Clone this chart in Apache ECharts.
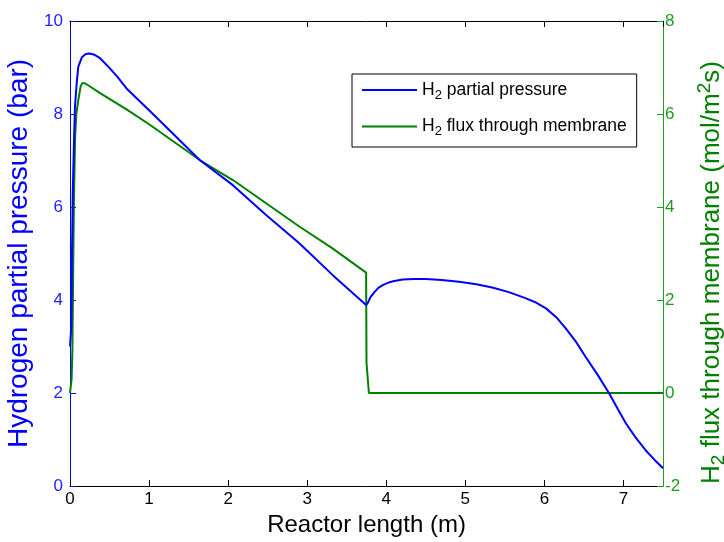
<!DOCTYPE html>
<html>
<head>
<meta charset="utf-8">
<script src="https://cdn.jsdelivr.net/npm/echarts@6/dist/echarts.min.js"></script>
<style>
  html, body { margin: 0; padding: 0; background: #fff; }
  #chart { width: 724px; height: 542px; }
</style>
</head>
<body>
<div id="chart"></div>
<script>
// Reactor position (m) and H2 partial pressure (bar)
const pressureX = [0, 0.015, 0.025, 0.035, 0.05, 0.063, 0.085, 0.105, 0.15, 0.2, 0.245, 0.3, 0.38, 0.505, 0.6, 0.715, 1.0, 1.3, 1.64, 2.06, 2.48, 2.9, 3.32, 3.745, 3.77, 3.8, 3.85, 3.9, 3.955, 4.02, 4.1, 4.21, 4.35, 4.5, 4.7, 4.92, 5.14, 5.34, 5.55, 5.76, 5.9, 6.02, 6.15, 6.27, 6.4, 6.52, 6.67, 6.82, 6.93, 7.03, 7.15, 7.28, 7.4, 7.5];
const pressureY = [3.0, 3.4, 5.0, 6.3, 7.4, 8.16, 8.67, 9.02, 9.22, 9.29, 9.3, 9.28, 9.2, 8.98, 8.8, 8.55, 8.08, 7.58, 7.01, 6.47, 5.83, 5.22, 4.54, 3.89, 3.95, 4.06, 4.17, 4.26, 4.32, 4.37, 4.41, 4.44, 4.45, 4.45, 4.43, 4.39, 4.34, 4.27, 4.17, 4.04, 3.94, 3.82, 3.63, 3.39, 3.1, 2.78, 2.4, 1.99, 1.65, 1.35, 1.05, 0.77, 0.55, 0.38];

// Reactor position (m) and H2 flux through the membrane (mol/m2s)
const fluxX = [0, 0.02, 0.03, 0.04, 0.05, 0.065, 0.08, 0.105, 0.135, 0.16, 0.2, 0.38, 0.715, 1.0, 1.3, 1.64, 2.06, 2.48, 2.9, 3.32, 3.745, 3.75, 3.775, 3.78, 7.5];
const fluxY = [0, 0.3, 0.9, 2.6, 4.2, 5.5, 6.0, 6.3, 6.6, 6.67, 6.65, 6.45, 6.1, 5.78, 5.42, 5.01, 4.58, 4.08, 3.58, 3.11, 2.59, 0.65, 0.62, 0.0, 0.0];

// Axis ranges and ticks
const lengthTicks = { min: 0, max: 7.5, interval: 1 };
const pressureTicks = { min: 0, max: 10, interval: 2 };
const fluxTicks = { min: -2, max: 8, interval: 2 };

const seriesNames = ['H2 partial pressure', 'H2 flux through membrane'];
const legendLabels = {
  'H2 partial pressure': '{n|H}{s|2}{n| partial pressure}',
  'H2 flux through membrane': '{n|H}{s|2}{n| flux through membrane}'
};

const BLUE = '#0000ff';
const GREEN = '#008000';
const AXIS_GREEN = '#1f9a1f';
const FONT = '"Liberation Sans", Arial, Helvetica, sans-serif';

const pair = (xs, ys) => xs.map((x, i) => [x, ys[i]]);

const chart = echarts.init(document.getElementById('chart'), null, { renderer: 'canvas' });

chart.setOption({
  animation: false,
  backgroundColor: '#ffffff',
  textStyle: { fontFamily: FONT },
  grid: { left: 70, right: 61, top: 21, bottom: 56, containLabel: false, outerBoundsMode: 'none' },
  legend: {
    data: seriesNames,
    orient: 'vertical',
    left: 352,
    top: 74,
    icon: 'rect',
    itemWidth: 55,
    itemHeight: 2,
    itemGap: 16,
    padding: [7, 10, 9, 10],
    borderColor: '#000',
    borderWidth: 1,
    backgroundColor: '#fff',
    formatter: name => legendLabels[name],
    textStyle: {
      fontFamily: FONT,
      fontSize: 17.5,
      color: '#000',
      rich: {
        n: { fontFamily: FONT, fontSize: 17.5, color: '#000' },
        s: { fontFamily: FONT, fontSize: 13, color: '#000', padding: [10, 0, 0, 0] }
      }
    }
  },
  xAxis: [
    {
      type: 'value',
      position: 'bottom',
      min: lengthTicks.min, max: lengthTicks.max, interval: lengthTicks.interval,
      name: 'Reactor length (m)',
      nameLocation: 'middle',
      nameGap: 27,
      nameTextStyle: { fontFamily: FONT, fontSize: 24, color: '#000' },
      axisLine: { show: true, onZero: false, lineStyle: { color: '#000', width: 1 } },
      axisTick: { show: true, inside: true, length: 6, lineStyle: { color: '#000' } },
      axisLabel: {
        show: true, margin: 5, color: '#000', fontSize: 17, fontFamily: FONT,
        showMaxLabel: false,
        formatter: v => (v > 7 ? '' : String(v))
      },
      splitLine: { show: false }
    },
    {
      type: 'value',
      position: 'top',
      min: lengthTicks.min, max: lengthTicks.max, interval: lengthTicks.interval,
      axisLine: { show: true, onZero: false, lineStyle: { color: '#000', width: 1 } },
      axisTick: { show: true, inside: true, length: 6, lineStyle: { color: '#000' } },
      axisLabel: { show: false },
      splitLine: { show: false }
    }
  ],
  yAxis: [
    {
      type: 'value',
      position: 'left',
      min: pressureTicks.min, max: pressureTicks.max, interval: pressureTicks.interval,
      name: 'Hydrogen partial pressure (bar)',
      nameLocation: 'middle',
      nameGap: 36,
      nameTextStyle: { fontFamily: FONT, fontSize: 28, color: BLUE },
      axisLine: { show: true, onZero: false, lineStyle: { color: BLUE, width: 1 } },
      axisTick: { show: true, inside: true, length: 6, lineStyle: { color: BLUE } },
      axisLabel: { color: '#2222ff', fontSize: 17, fontFamily: FONT, margin: 7 },
      splitLine: { show: false }
    },
    {
      type: 'value',
      position: 'right',
      min: fluxTicks.min, max: fluxTicks.max, interval: fluxTicks.interval,
      name: '{n|H}{s|2}{n| flux through membrane (mol/m}{p|2}{n|s)}',
      nameLocation: 'middle',
      nameGap: 32,
      nameRotate: 90,
      nameTextStyle: {
        fontFamily: FONT, fontSize: 26, color: GREEN,
        padding: [0, 38, 0, 0],
        rich: {
          n: { fontFamily: FONT, fontSize: 26, color: GREEN },
          s: { fontFamily: FONT, fontSize: 19, color: GREEN, padding: [14, 0, 0, 0] },
          p: { fontFamily: FONT, fontSize: 19, color: GREEN, padding: [0, 0, 14, 0] }
        }
      },
      axisLine: { show: true, onZero: false, lineStyle: { color: AXIS_GREEN, width: 1 } },
      axisTick: { show: true, inside: true, length: 6, lineStyle: { color: AXIS_GREEN } },
      axisLabel: { color: AXIS_GREEN, fontSize: 17, fontFamily: FONT, margin: 2 },
      splitLine: { show: false }
    }
  ],
  series: [
    {
      name: seriesNames[0],
      type: 'line',
      xAxisIndex: 0,
      yAxisIndex: 0,
      data: pair(pressureX, pressureY),
      showSymbol: false,
      color: BLUE,
      lineStyle: { color: BLUE, width: 2 },
      z: 3
    },
    {
      name: seriesNames[1],
      type: 'line',
      xAxisIndex: 0,
      yAxisIndex: 1,
      data: pair(fluxX, fluxY),
      showSymbol: false,
      color: GREEN,
      lineStyle: { color: GREEN, width: 2 },
      z: 2
    }
  ]
});
</script>
</body>
</html>
